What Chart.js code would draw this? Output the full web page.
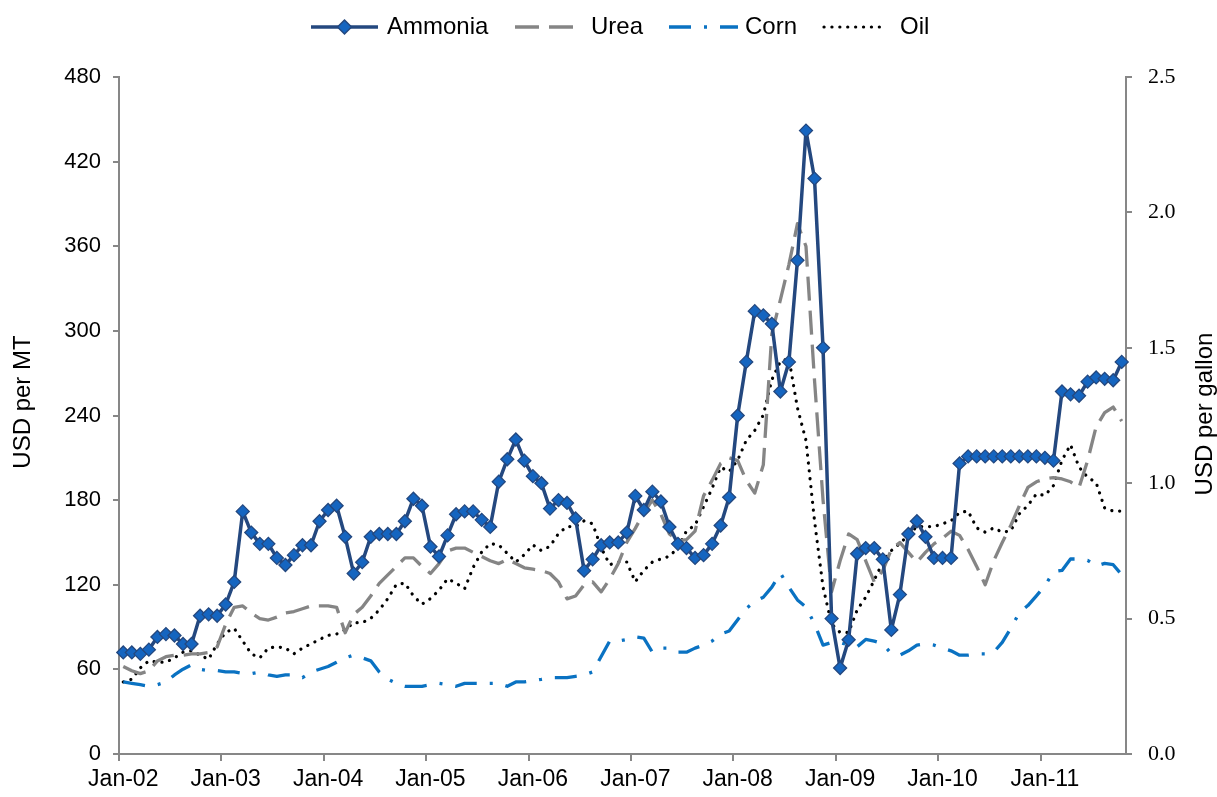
<!DOCTYPE html>
<html><head><meta charset="utf-8">
<script src="https://cdn.jsdelivr.net/npm/chart.js@4.4.1/dist/chart.umd.min.js"></script>
<style>html,body{margin:0;padding:0;background:#fff;}canvas{display:block;}</style>
</head><body>
<canvas id="c" width="1217" height="797"></canvas>
<script>
// ---- data ----
const years = ['02','03','04','05','06','07','08','09','10','11'];
const monthNames = ['Jan','Feb','Mar','Apr','May','Jun','Jul','Aug','Sep','Oct','Nov','Dec'];

// USD per MT (left axis)
const ammonia = [
  72,72,71,74,83,85,84,78,78,98,99,98,
  106,122,172,157,149,149,139,134,141,148,148,165,
  173,176,154,128,136,154,156,156,156,165,181,176,
  147,140,155,170,172,172,166,161,193,209,223,208,
  197,192,174,180,178,167,130,138,148,150,150,157,
  183,173,186,179,161,149,146,139,141,149,162,182,
  240,278,314,311,305,257,278,350,442,408,288,96,
  61,81,142,146,146,138,88,113,156,165,154,139,
  139,139,206,211,211,211,211,211,211,211,211,211,
  210,208,257,255,254,264,267,266,265,278
];
const urea = [
  62,59,57,59,66,69,70,70,71,71,72,76,
  92,104,105,100,96,95,97,100,101,103,105,105,
  105,104,86,99,104,112,121,127,133,139,139,133,
  128,135,144,146,146,143,140,137,135,138,135,132,
  131,130,128,122,110,112,120,122,115,124,135,150,
  160,171,180,170,156,151,152,158,183,194,206,210,
  208,194,185,205,298,322,347,376,360,265,180,115,
  137,156,152,137,122,130,145,150,143,136,143,149,
  153,158,155,145,133,120,137,150,162,176,189,193,
  195,196,195,193,189,208,232,242,246,236
];
// USD per gallon (right axis)
const corn = [
  .266,.261,.256,.250,.256,.266,.292,.313,.329,.313,.308,.308,
  .303,.303,.297,.297,.303,.292,.287,.292,.292,.282,.303,.313,
  .323,.339,.355,.365,.355,.344,.303,.276,.261,.250,.250,.250,
  .256,.261,.256,.250,.261,.261,.261,.261,.261,.250,.266,.266,
  .271,.276,.282,.282,.282,.287,.292,.303,.360,.417,.417,.423,
  .433,.428,.376,.391,.391,.376,.376,.391,.402,.417,.443,.454,
  .496,.537,.563,.579,.616,.668,.616,.569,.543,.480,.402,.412,
  .412,.402,.396,.423,.417,.407,.370,.365,.381,.402,.407,.402,
  .391,.381,.365,.365,.370,.370,.376,.412,.464,.522,.548,.584,
  .621,.673,.678,.720,.720,.715,.694,.704,.699,.662
];
const oil = [
  .266,.276,.318,.344,.339,.339,.355,.376,.381,.365,.350,.407,
  .449,.464,.417,.370,.355,.391,.396,.391,.370,.391,.407,.423,
  .438,.443,.459,.485,.485,.501,.532,.574,.626,.631,.584,.553,
  .574,.605,.647,.631,.610,.689,.746,.777,.772,.741,.709,.736,
  .772,.751,.767,.814,.840,.840,.861,.850,.762,.699,.709,.709,
  .636,.678,.709,.720,.730,.762,.824,.845,.913,.981,1.059,1.043,
  1.085,1.158,1.195,1.252,1.382,1.450,1.461,1.278,1.158,.861,.616,.480,
  .449,.449,.532,.579,.642,.709,.751,.777,.809,.840,.840,.840,
  .850,.861,.892,.897,.835,.819,.835,.819,.824,.887,.918,.960,
  .955,.991,1.085,1.142,1.059,1.022,1.002,.908,.897,.897
];
const leftTickRange = [0, 480, 60];
const rightTickRange = [0, 2.5, 0.5];

const categories = [];
for (const y of years) for (const m of monthNames) {
  if (categories.length < ammonia.length) categories.push(m + '-' + y);
}

// ---- styles ----
const SANS = "'Liberation Sans', Arial, sans-serif";
const SERIF = "'Liberation Serif', 'Times New Roman', serif";
const AXIS = '#878787';
const C_AMM_LINE = '#24487f';
const C_AMM_FILL = '#1565c0';
const C_UREA = '#858585';
const C_CORN = '#0a72c2';
const C_OIL = '#000000';
const DASH_UREA = [24, 10];
const DASH_CORN = [22, 13, 3, 13];
const DASH_OIL = [0.1, 7.8];

const legendSpec = [
  {label:'Ammonia', x0:311, x1:378, tx:387, color:C_AMM_LINE, dash:[], cap:'butt', w:3.5, marker:true},
  {label:'Urea', x0:515, x1:582, tx:591, color:C_UREA, dash:DASH_UREA, cap:'butt', w:3.3},
  {label:'Corn', x0:669, x1:738, tx:745, color:C_CORN, dash:DASH_CORN, cap:'butt', w:3.3},
  {label:'Oil', x0:824, x1:886, tx:900, color:C_OIL, dash:DASH_OIL, cap:'round', w:3.2}
];

const customDraw = {
  id: 'customDraw',
  afterDraw(chart) {
    const ctx = chart.ctx;
    ctx.save();
    const ly = 27;
    ctx.font = '24px ' + SANS;
    ctx.textBaseline = 'middle';
    ctx.textAlign = 'left';
    for (const it of legendSpec) {
      ctx.beginPath();
      ctx.setLineDash(it.dash);
      ctx.lineCap = it.cap;
      ctx.lineWidth = it.w;
      ctx.strokeStyle = it.color;
      ctx.moveTo(it.x0, ly);
      ctx.lineTo(it.x1, ly);
      ctx.stroke();
      ctx.setLineDash([]);
      if (it.marker) {
        const cx = (it.x0 + it.x1) / 2, r = 7;
        ctx.beginPath();
        ctx.moveTo(cx, ly - r); ctx.lineTo(cx + r, ly); ctx.lineTo(cx, ly + r); ctx.lineTo(cx - r, ly);
        ctx.closePath();
        ctx.fillStyle = C_AMM_FILL; ctx.fill();
        ctx.lineWidth = 1.5; ctx.strokeStyle = C_AMM_LINE; ctx.stroke();
      }
      ctx.fillStyle = '#000';
      ctx.fillText(it.label, it.tx, ly);
    }
    // axis titles
    ctx.textAlign = 'center';
    ctx.textBaseline = 'middle';
    ctx.save();
    ctx.translate(23, 402);
    ctx.rotate(-Math.PI / 2);
    ctx.fillText('USD per MT', 0, 0);
    ctx.restore();
    ctx.save();
    ctx.translate(1205, 414);
    ctx.rotate(-Math.PI / 2);
    ctx.fillText('USD per gallon', 0, 0);
    ctx.restore();
    ctx.restore();
  }
};

Chart.defaults.font.family = SANS;
Chart.defaults.font.size = 22;
Chart.defaults.color = '#000';

new Chart(document.getElementById('c'), {
  type: 'line',
  data: {
    labels: categories,
    datasets: [
      {label:'Ammonia', data: ammonia, yAxisID:'y', borderColor:C_AMM_LINE, borderWidth:3.5,
       pointStyle:'rectRot', pointRadius:6.5, pointBackgroundColor:C_AMM_FILL, pointBorderColor:C_AMM_LINE,
       pointBorderWidth:1.3, tension:0, borderJoinStyle:'round'},
      {label:'Urea', data: urea, yAxisID:'y', borderColor:C_UREA, borderWidth:3.3, borderDash:DASH_UREA,
       pointRadius:0, tension:0, borderJoinStyle:'round'},
      {label:'Corn', data: corn, yAxisID:'y1', borderColor:C_CORN, borderWidth:3.3, borderDash:DASH_CORN,
       pointRadius:0, tension:0, borderJoinStyle:'round'},
      {label:'Oil', data: oil, yAxisID:'y1', borderColor:C_OIL, borderWidth:3.2, borderDash:DASH_OIL,
       borderCapStyle:'round', pointRadius:0, tension:0, borderJoinStyle:'round'}
    ]
  },
  options: {
    responsive: false,
    animation: false,
    events: [],
    layout: {padding: {top: 77, left: 0, right: 0, bottom: 0}},
    plugins: {legend: {display: false}, tooltip: {enabled: false}},
    scales: {
      x: {
        type: 'category',
        offset: true,
        grid: {
          offset: true,
          drawOnChartArea: false,
          drawTicks: true,
          tickLength: 7,
          lineWidth: 2,
          color: (c) => (c.index % 12 === 0 ? AXIS : 'rgba(0,0,0,0)')
        },
        border: {display: true, color: AXIS, width: 2},
        ticks: {
          autoSkip: false, maxRotation: 0, minRotation: 0, padding: 5,
          font: {family: SANS, size: 23},
          callback: function (v, i) { const l = this.getLabelForValue(v); return l.startsWith('Jan') ? l : ''; }
        },
        afterFit: (s) => { s.height = 43; }
      },
      y: {
        position: 'left',
        min: leftTickRange[0], max: leftTickRange[1],
        ticks: {stepSize: leftTickRange[2], padding: 12, font: {family: SANS, size: 22}},
        grid: {drawOnChartArea: false, drawTicks: true, tickLength: 6, color: AXIS, lineWidth: 2},
        border: {display: true, color: AXIS, width: 2},
        afterFit: (s) => { s.width = 119; }
      },
      y1: {
        position: 'right',
        min: rightTickRange[0], max: rightTickRange[1],
        ticks: {stepSize: rightTickRange[2], padding: 16, font: {family: SERIF, size: 22},
                callback: (v) => Number(v).toFixed(1)},
        grid: {drawOnChartArea: false, drawTicks: true, tickLength: 6, color: AXIS, lineWidth: 2},
        border: {display: true, color: AXIS, width: 2},
        afterFit: (s) => { s.width = 1217 - 1126; }
      }
    }
  },
  plugins: [customDraw]
});
</script>
</body></html>
